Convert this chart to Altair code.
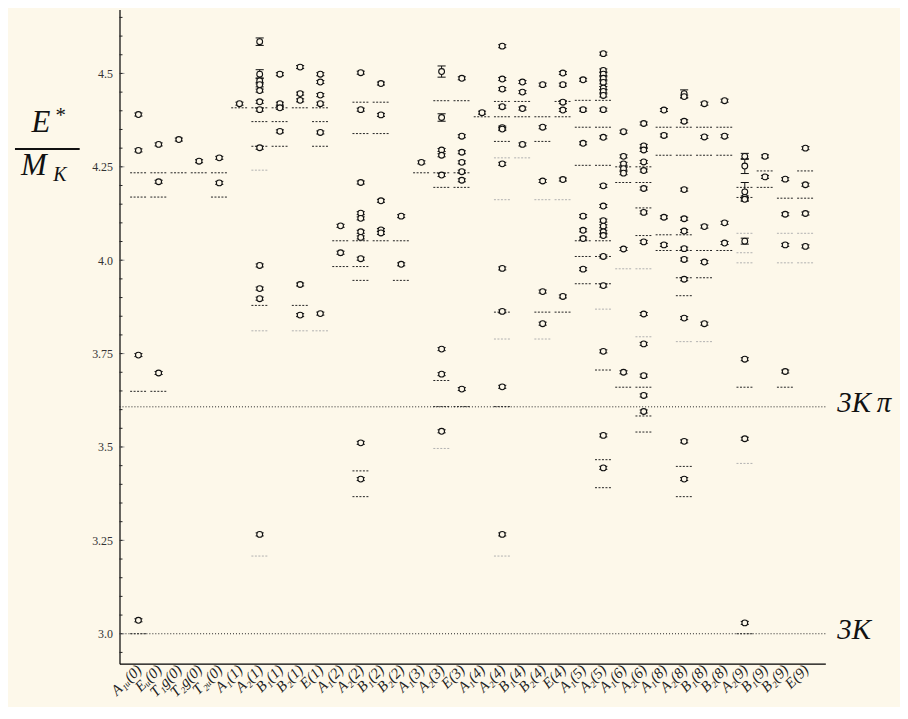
import json
import altair as alt
import pandas as pd
import numpy as np

categories = ["A₁ᵤ(0)", "Eᵤ(0)", "T₁g(0)", "T₂g(0)", "T₂ᵤ(0)",
              "A₁(1)", "A₂(1)", "B₁(1)", "B₂(1)", "E(1)",
              "A₁(2)", "A₂(2)", "B₁(2)", "B₂(2)",
              "A₁(3)", "A₂(3)", "E(3)",
              "A₁(4)", "A₂(4)", "B₁(4)", "B₂(4)", "E(4)",
              "A₁(5)", "A₂(5)", "A₁(6)", "A₂(6)",
              "A₁(8)", "A₂(8)", "B₁(8)", "B₂(8)",
              "A₂(9)", "B₁(9)", "B₂(9)", "E(9)"]

points = [
    [4.390, 4.294, 3.746, 3.036],
    [4.310, 4.210, 3.698],
    [4.323],
    [4.265],
    [4.274, 4.207],
    [4.419],
    [4.585, 4.498, 4.480, 4.470, 4.454, 4.424, 4.403, 4.301, 3.986, 3.924, 3.897, 3.266],
    [4.498, 4.419, 4.408, 4.345],
    [4.517, 4.446, 4.428, 3.935, 3.853],
    [4.498, 4.477, 4.442, 4.419, 4.342, 3.857],
    [4.092, 4.020],
    [4.502, 4.403, 4.208, 4.126, 4.112, 4.076, 4.061, 4.004, 3.511, 3.414],
    [4.473, 4.389, 4.159, 4.081, 4.073],
    [4.118, 3.989],
    [4.262],
    [4.505, 4.382, 4.295, 4.281, 4.228, 3.762, 3.695, 3.542],
    [4.487, 4.332, 4.289, 4.262, 4.237, 4.214, 3.655],
    [4.395],
    [4.573, 4.485, 4.458, 4.411, 4.355, 4.351, 4.258, 3.978, 3.863, 3.661, 3.266],
    [4.477, 4.450, 4.406, 4.310],
    [4.470, 4.356, 4.212, 3.916, 3.830],
    [4.501, 4.470, 4.423, 4.402, 4.216, 3.903],
    [4.483, 4.403, 4.313, 4.118, 4.080, 4.058, 3.976],
    [4.553, 4.508, 4.498, 4.487, 4.476, 4.461, 4.452, 4.441, 4.403, 4.329, 4.199,
     4.145, 4.106, 4.091, 4.076, 4.066, 4.010, 3.932, 3.756, 3.531, 3.444],
    [4.344, 4.278, 4.258, 4.245, 4.233, 4.030, 3.700],
    [4.366, 4.306, 4.295, 4.263, 4.240, 4.192, 4.128, 4.049, 3.856, 3.776, 3.691, 3.638, 3.595],
    [4.402, 4.334, 4.115, 4.041],
    [4.446, 4.438, 4.372, 4.189, 4.111, 4.078, 4.031, 4.002, 3.949, 3.845, 3.515, 3.414],
    [4.419, 4.330, 4.090, 3.995, 3.830],
    [4.427, 4.332, 4.100, 4.046],
    [4.278, 4.252, 4.183, 4.168, 4.163, 4.051, 3.735, 3.522, 3.029],
    [4.278, 4.223],
    [4.217, 4.123, 4.041, 3.702],
    [4.300, 4.202, 4.125, 4.037],
]

levels_black = [
    [4.234, 4.169, 3.649, 3.000],
    [4.234, 4.169, 3.649],
    [4.234],
    [4.234],
    [4.234, 4.169],
    [4.408],
    [4.408, 4.371, 4.305, 3.879],
    [4.408, 4.371, 4.305],
    [4.408, 3.879],
    [4.408, 4.371, 4.305],
    [4.052, 3.983],
    [4.423, 4.339, 4.052, 3.983, 3.946, 3.436, 3.367],
    [4.423, 4.339, 4.052],
    [4.052, 3.946],
    [4.234],
    [4.427, 4.234, 4.195, 3.678, 3.608],
    [4.427, 4.234, 4.195, 3.608],
    [4.384],
    [4.425, 4.384, 4.318, 3.861, 3.608],
    [4.425, 4.384],
    [4.384, 4.318, 3.861],
    [4.425, 4.384, 3.861],
    [4.428, 4.356, 4.254, 4.052, 4.010, 3.937],
    [4.428, 4.356, 4.254, 4.052, 4.010, 3.937, 3.706, 3.466, 3.391],
    [4.250, 4.208, 3.660],
    [4.250, 4.208, 4.140, 4.066, 3.660, 3.583, 3.540],
    [4.356, 4.281, 4.068, 4.026],
    [4.356, 4.281, 4.068, 4.026, 3.953, 3.905, 3.448, 3.367],
    [4.356, 4.281, 4.026, 3.953],
    [4.356, 4.281, 4.026],
    [4.195, 4.168, 3.660, 3.000],
    [4.239, 4.195],
    [4.166, 3.660],
    [4.239, 4.166],
]

levels_grey = [
    [], [], [], [], [], [],
    [4.241, 3.811, 3.208],
    [],
    [3.811],
    [3.811],
    [], [], [], [], [],
    [3.496],
    [],
    [],
    [4.274, 4.162, 3.789, 3.208],
    [4.274],
    [4.162, 3.789],
    [4.162],
    [],
    [3.869],
    [3.977],
    [3.977, 3.795],
    [],
    [3.782],
    [3.782],
    [],
    [4.072, 4.020, 3.993, 3.456],
    [],
    [4.072, 3.993],
    [4.072, 3.993],
]

# (category index, value, half error) for the visibly larger error bars
big_err = [(6, 4.585, 0.010), (6, 4.498, 0.012), (6, 4.480, 0.008), (6, 4.470, 0.006),
           (15, 4.505, 0.015), (15, 4.382, 0.010),
           (27, 4.446, 0.010),
           (30, 4.278, 0.008), (30, 4.252, 0.020), (30, 4.183, 0.025), (30, 4.051, 0.008)]
default_err = 0.004

ref_vals = [3.6075, 3.0]
ref_labels = ["3K\u2009\u03c0", "3K"]
y_major = [3.0, 3.25, 3.5, 3.75, 4.0, 4.25, 4.5]
y_minor = [round(v, 2) for v in np.arange(2.95, 4.66, 0.05)]

BG = "#fdf8ea"
SERIF = "Liberation Serif"

# ---------- tables ----------
prow = []
for i, vals in enumerate(points):
    for v in vals:
        e = default_err
        for ci, bv, be in big_err:
            if ci == i and abs(bv - v) < 1e-9:
                e = be
        prow.append(dict(idx=i, val=v, lo=v - e, hi=v + e, cl=i - 0.2, cr=i + 0.2))
pdf = pd.DataFrame(prow)

lrow = []
for i, vals in enumerate(levels_black):
    for v in vals:
        lrow.append(dict(idx=i, val=v, x1=i - 0.41, x2=i + 0.41, kind="black"))
for i, vals in enumerate(levels_grey):
    for v in vals:
        lrow.append(dict(idx=i, val=v, x1=i - 0.41, x2=i + 0.41, kind="grey"))
ldf = pd.DataFrame(lrow)

refdf = pd.DataFrame(dict(val=ref_vals, label=ref_labels))
majdf = pd.DataFrame(dict(val=y_major))
mindf = pd.DataFrame(dict(val=y_minor))
catdf = pd.DataFrame(dict(idx=list(range(len(categories))), val=[3.0] * len(categories)))

xscale = alt.Scale(domain=[-0.936, 33.985], nice=False, zero=False)
yscale = alt.Scale(domain=[2.920, 4.671], nice=False, zero=False)

label_expr = json.dumps(categories, ensure_ascii=False) + "[datum.value]"

xaxis = alt.Axis(values=list(range(len(categories))), labelExpr=label_expr,
                 labelAngle=315, labelAlign="right", labelBaseline="middle",
                 labelFont=SERIF, labelFontStyle="italic", labelFontSize=15,
                 labelColor="#222", labelPadding=3, ticks=False, grid=False,
                 domainColor="black", domainWidth=1.2, title=None,
                 labelOverlap=False, labelBound=False, labelFlush=False)
yaxis = alt.Axis(values=y_major,
                 labelExpr="datum.value % 1 == 0 ? format(datum.value, '.1f') : format(datum.value, '.2~f')",
                 labelFont=SERIF, labelFontSize=12, labelColor="#333", labelPadding=7,
                 ticks=False, grid=False, domainColor="black", domainWidth=1.2, title=None,
                 labelOverlap=False)


def X(field):
    return alt.X(field, scale=xscale, axis=xaxis)


def Y(field):
    return alt.Y(field, scale=yscale, axis=yaxis)


base_axes = alt.Chart(catdf).mark_point(opacity=0).encode(x=X("idx:Q"), y=Y("val:Q"))

ref_rules = alt.Chart(refdf).mark_rule(color="#222", strokeDash=[1, 2], strokeWidth=1).encode(
    y=Y("val:Q"), x=alt.value(0), x2=alt.value(709))

ref_text = alt.Chart(refdf).mark_text(font=SERIF, fontStyle="italic", fontSize=29,
                                      align="left", baseline="middle", color="#111", dy=-4).encode(
    y=Y("val:Q"), x=alt.value(721), text="label:N")

maj_ticks = alt.Chart(majdf).mark_rule(color="#999", strokeWidth=1).encode(
    y=Y("val:Q"), x=alt.value(0), x2=alt.value(5))
min_ticks = alt.Chart(mindf).mark_rule(color="#222", strokeWidth=1).encode(
    y=Y("val:Q"), x=alt.value(0), x2=alt.value(3))

lev = alt.Chart(ldf).mark_rule(strokeDash=[2, 1.5], strokeWidth=1).encode(
    x=X("x1:Q"), x2="x2:Q",
    y=Y("val:Q"),
    color=alt.Color("kind:N", scale=alt.Scale(domain=["black", "grey"], range=["#222", "#b0b0b0"]),
                    legend=None))

err = alt.Chart(pdf).mark_rule(color="#111", strokeWidth=1).encode(
    x=X("idx:Q"), y=Y("lo:Q"), y2="hi:Q")
cap_lo = alt.Chart(pdf).mark_rule(color="#111", strokeWidth=1).encode(
    x=X("cl:Q"), x2="cr:Q", y=Y("lo:Q"))
cap_hi = alt.Chart(pdf).mark_rule(color="#111", strokeWidth=1).encode(
    x=X("cl:Q"), x2="cr:Q", y=Y("hi:Q"))
pts = alt.Chart(pdf).mark_point(shape="circle", size=34, filled=True, fill=BG,
                                stroke="#111", strokeWidth=1.1, opacity=1).encode(
    x=X("idx:Q"), y=Y("val:Q"))

# y-axis title drawn as a fraction E*/M_K
title_df = pd.DataFrame(dict(
    t=["E", "*", "M", "K"],
    px=[-79, -60, -86, -60],
    py=[114, 107, 157, 166],
    fs=[31, 21, 31, 20],
))
title_txt = alt.Chart(title_df).mark_text(font=SERIF, fontStyle="italic", align="center",
                                          baseline="middle", color="#111").encode(
    x=alt.X("px:Q", scale=None), y=alt.Y("py:Q", scale=None), text="t:N",
    size=alt.Size("fs:Q", scale=None, legend=None))
title_bar = alt.Chart(title_df.head(1)).mark_rule(color="#111", strokeWidth=2).encode(
    x=alt.value(-105), x2=alt.value(-40), y=alt.value(140))

chart = alt.layer(base_axes, ref_rules, maj_ticks, min_ticks, lev, err, cap_lo, cap_hi, pts,
                  ref_text, title_txt, title_bar).properties(
    width=709, height=657,
    autosize=alt.AutoSizeParams(type="none"),
    padding={"left": 112, "top": 0, "right": 75, "bottom": 42},
    background=BG,
).configure_view(stroke=None)

chart.save("out.html", embed_options={"renderer": "svg", "actions": False})
